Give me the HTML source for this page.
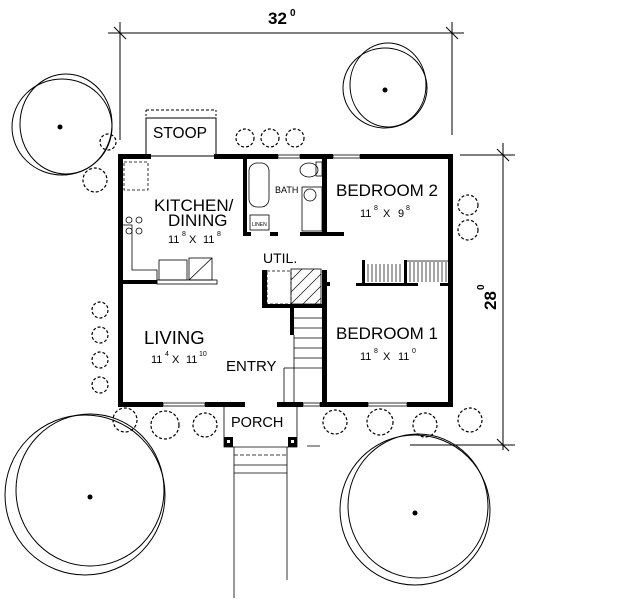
<!DOCTYPE html>
<html><head><style>
html,body{margin:0;padding:0;background:#fff;}
svg{display:block;}
text{font-family:"Liberation Sans",sans-serif;fill:#000;}
</style></head><body>
<svg width="634" height="600" viewBox="0 0 634 600" xmlns="http://www.w3.org/2000/svg">
<g stroke="#000" fill="none" stroke-width="1">
<line x1="108" y1="33" x2="464" y2="33"/>
<line x1="120" y1="22" x2="120" y2="140"/>
<line x1="452" y1="22" x2="452" y2="135"/>
<line x1="114" y1="27" x2="126" y2="39"/>
<line x1="446" y1="27" x2="458" y2="39"/>
<line x1="503" y1="143" x2="503" y2="450"/>
<line x1="460" y1="155" x2="515" y2="155"/>
<line x1="410" y1="445" x2="515" y2="445"/>
<line x1="497" y1="149" x2="509" y2="161"/>
<line x1="497" y1="439" x2="509" y2="451"/>
<ellipse cx="62" cy="127" rx="50" ry="48"/><ellipse cx="66" cy="124" rx="46" ry="50"/>
<ellipse cx="385" cy="88" rx="42" ry="40"/><ellipse cx="388" cy="85" rx="38" ry="42"/>
<ellipse cx="85" cy="495" rx="80" ry="80"/><ellipse cx="90" cy="490" rx="74" ry="76"/>
<ellipse cx="415" cy="510" rx="75" ry="75"/><ellipse cx="418" cy="506" rx="70" ry="72"/>
</g>
<circle cx="60" cy="127" r="2.5"/><circle cx="385" cy="90" r="2.5"/><circle cx="90" cy="497" r="2.5"/><circle cx="415" cy="513" r="2.5"/>
<g stroke="#000" fill="none" stroke-width="1.2" stroke-dasharray="3 2">
<circle cx="245" cy="138" r="9"/><circle cx="270" cy="138" r="9"/><circle cx="295" cy="138" r="9"/>
<circle cx="95" cy="180" r="12"/><circle cx="108" cy="142" r="8"/>
<circle cx="468" cy="205" r="10"/><circle cx="468" cy="230" r="10"/>
<circle cx="100" cy="310" r="8"/><circle cx="100" cy="335" r="8"/><circle cx="100" cy="360" r="8"/><circle cx="100" cy="385" r="8"/>
<circle cx="125" cy="420" r="12"/><circle cx="165" cy="425" r="14"/><circle cx="205" cy="425" r="12"/>
<circle cx="335" cy="422" r="12"/><circle cx="380" cy="422" r="13"/><circle cx="425" cy="425" r="12"/><circle cx="470" cy="420" r="12"/>
</g>
<g stroke="#000" fill="none">
<rect x="146" y="118" width="70" height="38"/>
<line x1="146" y1="110" x2="216" y2="110" stroke-dasharray="3 2"/>
<line x1="146" y1="110" x2="146" y2="118" stroke-dasharray="2 2"/><line x1="216" y1="110" x2="216" y2="118" stroke-dasharray="2 2"/>
</g>
<g fill="#000">
<rect x="118" y="154" width="33" height="5"/>
<rect x="214" y="154" width="64" height="5"/>
<rect x="300" y="154" width="33" height="5"/>
<rect x="360" y="154" width="92" height="5"/>
<rect x="118" y="154" width="5" height="252"/>
<rect x="448" y="154" width="5" height="252"/>
<rect x="118" y="402" width="45" height="5"/>
<rect x="205" y="402" width="40" height="5"/>
<rect x="277" y="402" width="26" height="5"/>
<rect x="320" y="402" width="48" height="5"/>
<rect x="407" y="402" width="46" height="5"/>
<rect x="243" y="159" width="4" height="77"/>
<rect x="243" y="232" width="8" height="4"/>
<rect x="270" y="232" width="8" height="4"/>
<rect x="322" y="159" width="5" height="77"/>
<rect x="300" y="232" width="44" height="4"/>
<rect x="123" y="280" width="34" height="4"/>
<rect x="262" y="270" width="5" height="38"/>
<rect x="262" y="304" width="61" height="4"/>
<rect x="322" y="270" width="5" height="136"/>
<rect x="290" y="308" width="4" height="27"/>
<rect x="356" y="283" width="62" height="3"/>
<rect x="440" y="283" width="12" height="3"/>
<rect x="362" y="260" width="3" height="24"/>
<rect x="404" y="260" width="3" height="24"/>
<rect x="327" y="282" width="3" height="4"/>
</g>
<g stroke="#000" fill="none" stroke-width="0.8">
<rect x="278" y="155" width="22" height="3"/><rect x="333" y="155" width="27" height="3"/>
<rect x="163" y="403" width="42" height="3"/><rect x="303" y="403" width="17" height="3"/><rect x="368" y="403" width="39" height="3"/>
<polyline points="123,225 132,225 132,270 157,270 157,283"/>
<rect x="124" y="162" width="24" height="28" stroke-dasharray="3 2"/>
<circle cx="129" cy="220" r="3"/><circle cx="139" cy="220" r="3"/><circle cx="129" cy="231" r="3"/><circle cx="139" cy="231" r="3"/>
<rect x="159" y="260" width="28" height="20"/><rect x="189" y="258" width="23" height="22"/>
<line x1="189" y1="280" x2="212" y2="258"/>
<rect x="157" y="280" width="60" height="4"/>
<rect x="249" y="163" width="20" height="44" rx="8"/>
<rect x="250" y="215" width="19" height="15"/>
<ellipse cx="309" cy="170" rx="9" ry="7"/><rect x="316" y="162" width="6" height="14"/>
<rect x="302" y="187" width="20" height="44"/><circle cx="310" cy="195" r="6"/>
<rect x="267" y="271" width="24" height="33" stroke-dasharray="3 2"/>
<rect x="291" y="269" width="30" height="35"/>
<g stroke-width="0.6"><line x1="291" y1="280" x2="302" y2="269"/><line x1="291" y1="292" x2="314" y2="269"/><line x1="291" y1="304" x2="321" y2="274"/><line x1="303" y1="304" x2="321" y2="286"/><line x1="315" y1="304" x2="321" y2="298"/></g>
<line x1="294" y1="318" x2="322" y2="318"/><line x1="294" y1="328" x2="322" y2="328"/><line x1="294" y1="338" x2="322" y2="338"/>
<line x1="294" y1="348" x2="322" y2="348"/><line x1="294" y1="358" x2="322" y2="358"/><line x1="294" y1="368" x2="322" y2="368"/>
<line x1="294" y1="335" x2="294" y2="402"/><line x1="284" y1="368" x2="284" y2="402"/><line x1="284" y1="368" x2="294" y2="368"/>
<g stroke-width="0.7"><line x1="368" y1="264" x2="368" y2="282"/><line x1="372" y1="264" x2="372" y2="282"/><line x1="376" y1="264" x2="376" y2="282"/><line x1="380" y1="264" x2="380" y2="282"/><line x1="384" y1="264" x2="384" y2="282"/><line x1="388" y1="264" x2="388" y2="282"/><line x1="392" y1="264" x2="392" y2="282"/><line x1="396" y1="264" x2="396" y2="282"/><line x1="400" y1="264" x2="400" y2="282"/>
<line x1="410" y1="262" x2="410" y2="282"/><line x1="414" y1="262" x2="414" y2="282"/><line x1="418" y1="262" x2="418" y2="282"/><line x1="422" y1="262" x2="422" y2="282"/><line x1="426" y1="262" x2="426" y2="282"/><line x1="430" y1="262" x2="430" y2="282"/><line x1="434" y1="262" x2="434" y2="282"/><line x1="438" y1="262" x2="438" y2="282"/><line x1="442" y1="262" x2="442" y2="282"/><line x1="446" y1="262" x2="446" y2="282"/></g>
<line x1="404" y1="261" x2="448" y2="261"/>
<polyline points="224,407 224,447 297,447 297,407"/>
<line x1="234" y1="447" x2="234" y2="598"/><line x1="287" y1="447" x2="287" y2="580"/>
<line x1="234" y1="455" x2="287" y2="455" stroke-dasharray="4 2"/>
<line x1="234" y1="465" x2="287" y2="465"/><line x1="234" y1="473" x2="287" y2="473"/>
<line x1="307" y1="446" x2="320" y2="446"/>
</g>
<rect x="224" y="437" width="9" height="10" fill="#000"/><rect x="288" y="437" width="9" height="10" fill="#000"/>
<rect x="227" y="440" width="3" height="3" fill="#fff"/><rect x="291" y="440" width="3" height="3" fill="#fff"/>
<text x="268" y="24" font-size="17" font-weight="bold">32</text><text x="290" y="16" font-size="10" font-weight="bold">0</text>
<text transform="translate(496,310) rotate(-90)" font-size="17" font-weight="bold">28</text>
<text transform="translate(484,290) rotate(-90)" font-size="10" font-weight="bold">0</text>
<text x="153" y="138" font-size="15.5">STOOP</text>
<text x="154" y="211" font-size="17">KITCHEN/</text>
<text x="168" y="226" font-size="17">DINING</text>
<text x="168" y="243" font-size="11">11</text><text x="182" y="236" font-size="7">8</text><text x="189" y="243" font-size="11">X</text><text x="203" y="243" font-size="11">11</text><text x="217" y="236" font-size="7">8</text>
<text x="275" y="193" font-size="9">BATH</text>
<text x="252" y="226" font-size="5">LINEN</text>
<text x="336" y="196" font-size="17">BEDROOM 2</text>
<text x="360" y="217" font-size="11">11</text><text x="374" y="210" font-size="7">8</text><text x="383" y="217" font-size="11">X</text><text x="398" y="217" font-size="11">9</text><text x="406" y="210" font-size="7">8</text>
<text x="263" y="263" font-size="14">UTIL.</text>
<text x="336" y="339" font-size="17">BEDROOM 1</text>
<text x="360" y="360" font-size="11">11</text><text x="374" y="353" font-size="7">8</text><text x="383" y="360" font-size="11">X</text><text x="398" y="360" font-size="11">11</text><text x="412" y="353" font-size="7">0</text>
<text x="144" y="344" font-size="18.5">LIVING</text>
<text x="151" y="363" font-size="11">11</text><text x="165" y="356" font-size="7">4</text><text x="172" y="363" font-size="11">X</text><text x="186" y="363" font-size="11">11</text><text x="199" y="356" font-size="7">10</text>
<text x="226" y="371" font-size="15">ENTRY</text>
<text x="231" y="427" font-size="14.5">PORCH</text>
</svg>
</body></html>
